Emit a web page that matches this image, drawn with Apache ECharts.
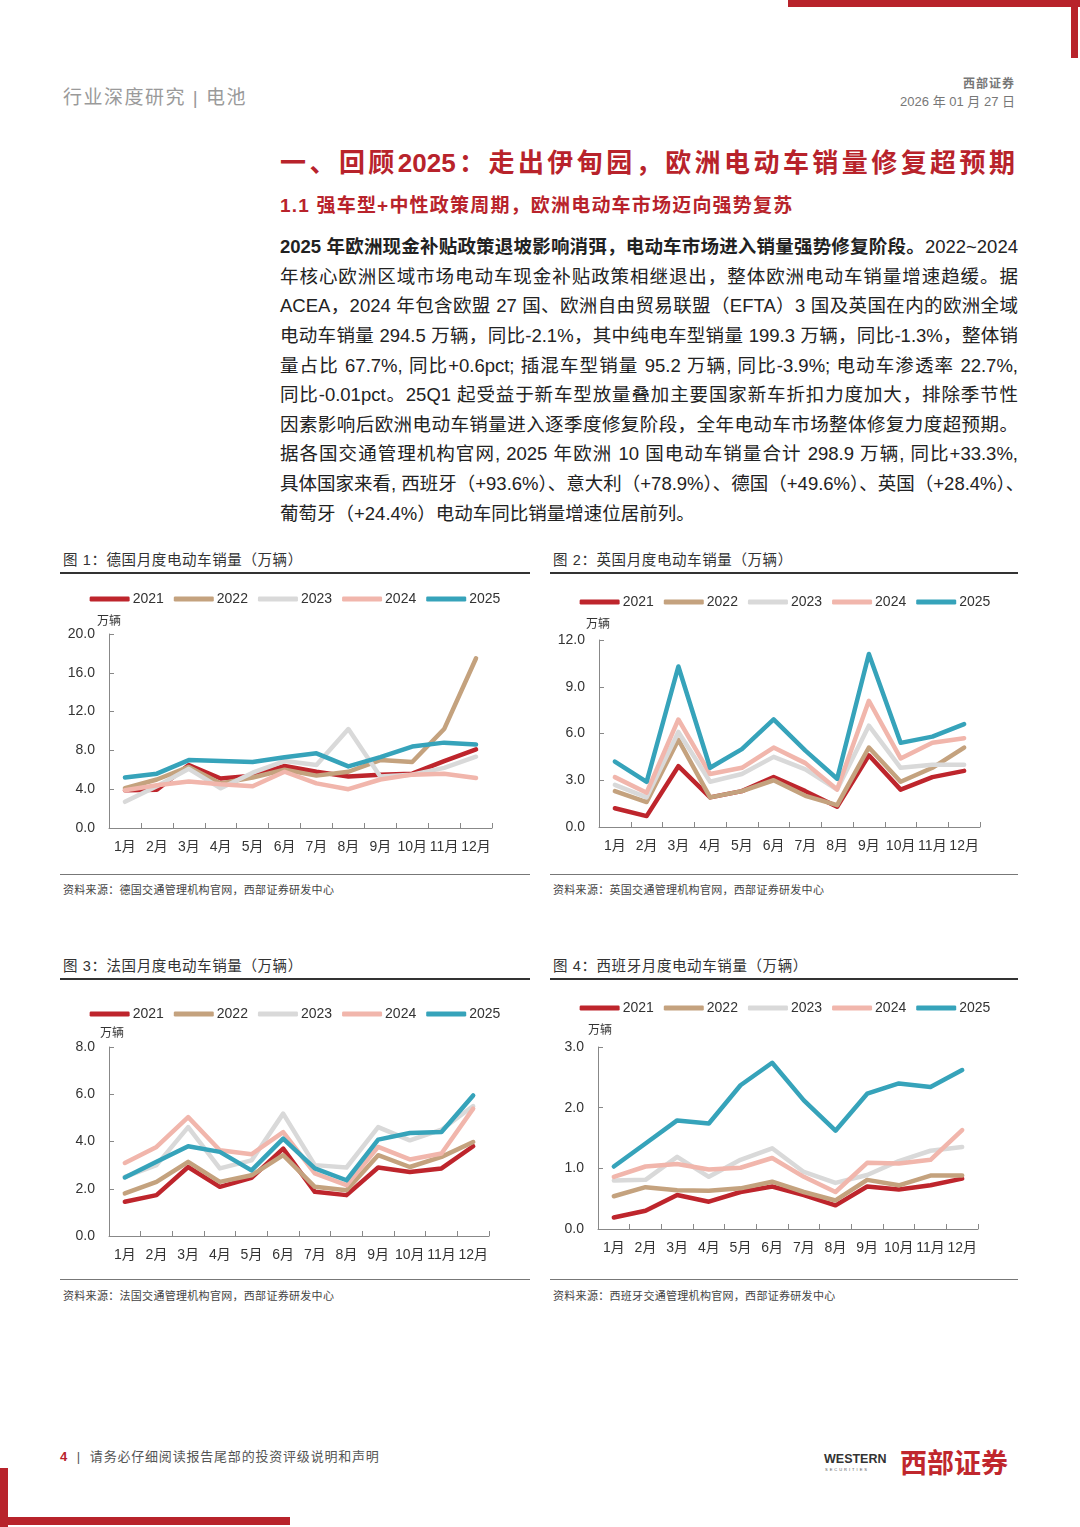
<!DOCTYPE html>
<html><head><meta charset="utf-8">
<script src="https://cdn.jsdelivr.net/npm/echarts@6/dist/echarts.min.js"></script>
<style>
html,body{margin:0;padding:0;background:#fff;}
body{width:1080px;height:1527px;position:relative;overflow:hidden;font-family:"Liberation Sans","Noto Sans CJK SC",sans-serif;}
.abs{position:absolute;}
.red{background:#B8232B;}
.para div{position:absolute;left:280px;width:738px;height:30px;line-height:30px;font-size:18.5px;color:#222;text-align:justify;text-align-last:justify;white-space:nowrap;}
.para div.last{text-align-last:left;}
.ftitle{position:absolute;font-size:14.5px;color:#333;letter-spacing:0.6px;}
.fline{position:absolute;height:2px;background:#333;}
.bline{position:absolute;height:1px;background:#777;}
.src{position:absolute;font-size:11px;color:#444;letter-spacing:0.3px;}
.chart{position:absolute;width:470px;height:285px;}
</style></head>
<body>
<!-- red corner brackets -->
<div class="abs red" style="left:788px;top:0;width:292px;height:7px;"></div>
<div class="abs red" style="left:1071px;top:0;width:7px;height:58px;"></div>
<div class="abs red" style="left:0;top:1468px;width:8px;height:59px;"></div>
<div class="abs red" style="left:0;top:1517px;width:290px;height:8px;"></div>

<!-- header -->
<div class="abs" style="left:63px;top:82px;font-size:19px;color:#9a9a9a;letter-spacing:1.5px;">行业深度研究 | 电池</div>
<div class="abs" style="right:65px;top:74px;font-size:12px;color:#777;font-weight:bold;letter-spacing:1px;">西部证券</div>
<div class="abs" style="right:65px;top:91px;font-size:13px;color:#777;">2026 年 01 月 27 日</div>

<!-- titles -->
<div class="abs" style="left:280px;top:142px;width:735px;font-size:26px;font-weight:bold;color:#B8232B;text-align:justify;text-align-last:justify;white-space:nowrap;">一、回顾2025：走出伊甸园，欧洲电动车销量修复超预期</div>
<div class="abs" style="left:280px;top:190px;font-size:19px;font-weight:bold;color:#B8232B;letter-spacing:1.2px;">1.1 强车型+中性政策周期，欧洲电动车市场迈向强势复苏</div>

<!-- paragraph -->
<div class="para">
<div style="top:232px;"><b>2025 年欧洲现金补贴政策退坡影响消弭，电动车市场进入销量强势修复阶段。</b>2022~2024</div>
<div style="top:262px;">年核心欧洲区域市场电动车现金补贴政策相继退出，整体欧洲电动车销量增速趋缓。据</div>
<div style="top:291px;">ACEA，2024 年包含欧盟 27 国、欧洲自由贸易联盟（EFTA）3 国及英国在内的欧洲全域</div>
<div style="top:321px;">电动车销量 294.5 万辆，同比-2.1%，其中纯电车型销量 199.3 万辆，同比-1.3%，整体销</div>
<div style="top:351px;">量占比 67.7%, 同比+0.6pct; 插混车型销量 95.2 万辆, 同比-3.9%; 电动车渗透率 22.7%,</div>
<div style="top:380px;">同比-0.01pct。25Q1 起受益于新车型放量叠加主要国家新车折扣力度加大，排除季节性</div>
<div style="top:410px;">因素影响后欧洲电动车销量进入逐季度修复阶段，全年电动车市场整体修复力度超预期。</div>
<div style="top:439px;">据各国交通管理机构官网, 2025 年欧洲 10 国电动车销量合计 298.9 万辆, 同比+33.3%,</div>
<div style="top:469px;">具体国家来看, 西班牙（+93.6%）、意大利（+78.9%）、德国（+49.6%）、英国（+28.4%）、</div>
<div class="last" style="top:499px;">葡萄牙（+24.4%）电动车同比销量增速位居前列。</div>
</div>

<!-- figure frames -->
<div class="ftitle" style="left:63px;top:548px;">图 1：德国月度电动车销量（万辆）</div>
<div class="fline" style="left:60px;top:572px;width:470px;"></div>
<div class="ftitle" style="left:553px;top:548px;">图 2：英国月度电动车销量（万辆）</div>
<div class="fline" style="left:550px;top:572px;width:468px;"></div>
<div class="bline" style="left:60px;top:874px;width:470px;"></div>
<div class="bline" style="left:550px;top:874px;width:468px;"></div>
<div class="src" style="left:63px;top:881px;">资料来源：德国交通管理机构官网，西部证券研发中心</div>
<div class="src" style="left:553px;top:881px;">资料来源：英国交通管理机构官网，西部证券研发中心</div>

<div class="ftitle" style="left:63px;top:954px;">图 3：法国月度电动车销量（万辆）</div>
<div class="fline" style="left:60px;top:978px;width:470px;"></div>
<div class="ftitle" style="left:553px;top:954px;">图 4：西班牙月度电动车销量（万辆）</div>
<div class="fline" style="left:550px;top:978px;width:468px;"></div>
<div class="bline" style="left:60px;top:1279px;width:470px;"></div>
<div class="bline" style="left:550px;top:1279px;width:468px;"></div>
<div class="src" style="left:63px;top:1287px;">资料来源：法国交通管理机构官网，西部证券研发中心</div>
<div class="src" style="left:553px;top:1287px;">资料来源：西班牙交通管理机构官网，西部证券研发中心</div>

<div id="c1" class="chart" style="left:60px;top:585px;"></div>
<div id="c2" class="chart" style="left:550px;top:585px;"></div>
<div id="c3" class="chart" style="left:60px;top:995px;"></div>
<div id="c4" class="chart" style="left:550px;top:990px;"></div>

<!-- footer -->
<div class="abs" style="left:60px;top:1446px;font-size:13px;color:#555;letter-spacing:0.8px;"><b style="color:#B8232B;">4</b>&nbsp; | &nbsp;请务必仔细阅读报告尾部的投资评级说明和声明</div>
<div class="abs" style="left:824px;top:1452px;font-size:12.5px;font-weight:bold;color:#333;letter-spacing:0px;">WESTERN</div>
<div class="abs" style="left:825px;top:1467px;font-size:4px;color:#555;letter-spacing:2px;">SECURITIES</div>
<div class="abs" style="left:900px;top:1442px;font-size:27px;font-weight:bold;color:#C0272D;letter-spacing:0px;">西部证券</div>

<script>
// ---- data ----
const months = ['1月','2月','3月','4月','5月','6月','7月','8月','9月','10月','11月','12月'];
const years = ['2021','2022','2023','2024','2025'];

// Germany (万辆)
const de2021 = [3.9,3.95,6.5,5.1,5.4,6.4,5.8,5.3,5.5,5.6,6.9,8.1];
const de2022 = [4.1,5.0,6.3,4.6,5.2,6.0,5.4,5.8,7.0,6.8,10.2,17.5];
const de2023 = [2.7,4.3,6.1,4.1,5.7,6.9,6.5,10.2,5.3,5.5,6.2,7.35];
const de2024 = [3.9,4.4,4.8,4.5,4.3,5.8,4.6,4.0,5.0,5.5,5.6,5.15];
const de2025 = [5.2,5.6,7.0,6.9,6.8,7.3,7.7,6.35,7.3,8.4,8.8,8.6];
const deTicks = [0,4,8,12,16,20];

// UK (万辆)
const uk2021 = [1.2,0.7,3.9,1.9,2.3,3.2,2.3,1.3,4.6,2.4,3.2,3.6];
const uk2022 = [2.3,1.6,5.6,1.9,2.3,3.0,2.0,1.4,5.1,2.9,3.8,5.1];
const uk2023 = [2.7,1.9,6.1,2.9,3.4,4.5,3.7,2.4,6.5,3.8,4.0,4.0];
const uk2024 = [3.2,2.2,6.9,3.4,3.8,5.1,4.1,2.4,8.1,4.4,5.4,5.7];
const uk2025 = [4.2,2.9,10.3,3.8,5.0,6.9,4.9,3.1,11.1,5.4,5.8,6.6];
const ukTicks = [0,3,6,9,12];

// France (万辆)
const fr2021 = [1.45,1.73,2.92,2.08,2.46,3.7,1.87,1.73,2.9,2.71,2.86,3.8];
const fr2022 = [1.8,2.29,3.14,2.29,2.57,3.42,2.08,1.94,3.42,2.92,3.35,3.98];
const fr2023 = [2.5,3.0,4.61,2.86,3.2,5.18,3.0,2.9,4.61,4.05,4.5,5.5];
const fr2024 = [3.09,3.77,5.03,3.63,3.46,4.4,2.65,2.15,3.77,3.24,3.49,5.39];
const fr2025 = [2.48,3.14,3.8,3.56,2.78,4.12,2.86,2.36,4.08,4.36,4.4,5.95];
const frTicks = [0,2,4,6,8];

// Spain (万辆)
const es2021 = [0.19,0.3,0.56,0.45,0.61,0.7,0.56,0.39,0.7,0.65,0.72,0.83];
const es2022 = [0.54,0.69,0.64,0.63,0.67,0.78,0.61,0.47,0.81,0.72,0.88,0.88];
const es2023 = [0.8,0.81,1.19,0.86,1.14,1.33,0.94,0.76,0.89,1.12,1.29,1.35];
const es2024 = [0.86,1.03,1.07,0.98,1.01,1.17,0.86,0.61,1.09,1.08,1.14,1.63];
const es2025 = [1.03,1.41,1.79,1.74,2.37,2.74,2.12,1.62,2.23,2.4,2.34,2.62];
const esTicks = [0,1,2,3];

const colors = ['#BE252C','#C4A27E','#D9D9D9','#F1B6AC','#36A3BA'];

function makeChart(id, seriesData, ticks, grid, legendTop, unitPos){
  const chart = echarts.init(document.getElementById(id), null, {renderer:'canvas'});
  const step = ticks[1]-ticks[0];
  chart.setOption({
    animation:false,
    color: colors,
    legend:{
      data: years, top: legendTop, left:'center',
      itemWidth:40, itemHeight:5, itemGap:10, icon:'roundRect',
      textStyle:{fontSize:14, color:'#333', fontFamily:'Liberation Sans', padding:[0,0,0,-2]}
    },
    grid: grid,
    graphic:[{type:'text', left:unitPos[0], top:unitPos[1],
      style:{text:'万辆', fontSize:12, fill:'#333', fontFamily:'Noto Sans CJK SC'}}],
    xAxis:{
      type:'category', data: months, boundaryGap:true,
      axisLine:{lineStyle:{color:'#888', width:1}},
      axisTick:{show:true, inside:true, length:5, lineStyle:{color:'#888'}},
      axisLabel:{fontSize:14, color:'#333', margin:12, interval:0, fontFamily:'Liberation Sans, Noto Sans CJK SC'}
    },
    yAxis:{
      type:'value', min: ticks[0], max: ticks[ticks.length-1], interval: step,
      splitLine:{show:false},
      axisLine:{show:true, lineStyle:{color:'#888', width:1}},
      axisTick:{show:true, inside:true, length:5, lineStyle:{color:'#888'}},
      axisLabel:{fontSize:14, color:'#333', margin:14, fontFamily:'Liberation Sans',
        formatter: v => v.toFixed(1)}
    },
    series: seriesData.map((d,i)=>({
      name: years[i], type:'line', data:d, symbol:'none',
      lineStyle:{width:4.5, color:colors[i], cap:'round', join:'round'},
      itemStyle:{color:colors[i]}
    }))
  });
}

makeChart('c1',[de2021,de2022,de2023,de2024,de2025], deTicks,
  {left:49, right:38, top:49, bottom:42}, 2, [37,29]);
makeChart('c2',[uk2021,uk2022,uk2023,uk2024,uk2025], ukTicks,
  {left:49, right:40, top:55, bottom:43}, 5, [36,32]);
makeChart('c3',[fr2021,fr2022,fr2023,fr2024,fr2025], frTicks,
  {left:49, right:41, top:52, bottom:44}, 7, [40,31]);
makeChart('c4',[es2021,es2022,es2023,es2024,es2025], esTicks,
  {left:48, right:42, top:57, bottom:46}, 6, [38,33]);
</script>
</body></html>
